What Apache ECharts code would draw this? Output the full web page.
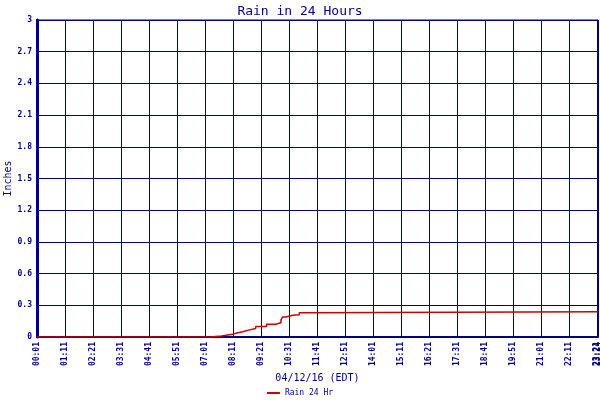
<!DOCTYPE html>
<html>
<head>
<meta charset="utf-8">
<script src="https://cdn.jsdelivr.net/npm/echarts@6/dist/echarts.min.js"></script>
<style>html,body{margin:0;padding:0;background:#fff}#c{width:600px;height:400px}</style>
</head>
<body>
<div id="c"></div>
<script>
var readingTimes = ["00:01","07:14","07:42","08:10","08:18","08:35","08:50","09:08","09:35","09:58","10:11","10:15","10:23","10:40","10:57","11:12","23:24"];
var rainValues   = [0,      0.01,   0.025,  0.035,  0.05,   0.065,  0.08,   0.10,   0.12,   0.135,  0.16,   0.19,   0.205,  0.21,   0.23,   0.24,   0.24];
var yTicks = ["0","0.3","0.6","0.9","1.2","1.5","1.8","2.1","2.4","2.7","3"];

function toMin(t){var p=t.split(":");return (+p[0])*60+(+p[1])-1;}
function fmt(v){var m=Math.round(v)+1;var h=Math.floor(m/60),mm=m%60;return (h<10?"0":"")+h+":"+(mm<10?"0":"")+mm;}
var data = readingTimes.map(function(t,i){return [toMin(t), rainValues[i]];});
var navy = "#000080";
var font = "DejaVu Sans Mono";
var xMax = toMin("23:24");
var extraTick = toMin("23:21");
var chart = echarts.init(document.getElementById("c"));
chart.setOption({
  animation:false,
  backgroundColor:"#fff",
  title:{text:"Rain in 24 Hours",left:"center",top:0,textStyle:{color:navy,fontFamily:font,fontSize:13,fontWeight:"normal"}},
  grid:{left:37,right:2,top:20,bottom:63,show:true,borderColor:navy,borderWidth:1,containLabel:false,outerBoundsMode:"none"},
  legend:{bottom:-2,left:"center",icon:"rect",itemWidth:13,itemHeight:2,itemGap:4,
    textStyle:{color:navy,fontFamily:font,fontSize:8},data:["Rain 24 Hr"]},
  xAxis:[{type:"value",min:0,max:xMax,interval:70,
    name:"04/12/16 (EDT)",nameLocation:"middle",nameGap:36,nameMoveOverlap:false,
    nameTextStyle:{color:navy,fontFamily:font,fontSize:10},
    axisLine:{lineStyle:{color:navy,width:2}},axisTick:{show:false},
    axisLabel:{rotate:90,color:navy,fontFamily:font,fontSize:8,fontWeight:"bold",margin:5,formatter:fmt,showMaxLabel:true,showMinLabel:true,hideOverlap:false},
    splitLine:{show:true,lineStyle:{color:navy,width:1}}},
   {type:"value",position:"bottom",min:0,max:xMax,interval:70,
    axisLine:{show:false},axisTick:{show:false},splitLine:{show:false},
    axisLabel:{rotate:90,color:navy,fontFamily:font,fontSize:8,fontWeight:"bold",margin:5,hideOverlap:false,
      formatter:function(v){return Math.round(v)===extraTick?fmt(v):"";}}}],
  yAxis:[{type:"value",min:0,max:3,interval:0.3,
    name:"Inches",nameLocation:"middle",nameGap:24,nameMoveOverlap:false,
    nameTextStyle:{color:navy,fontFamily:font,fontSize:10},
    axisLine:{show:true,lineStyle:{color:navy,width:2}},axisTick:{show:false},
    axisLabel:{color:navy,fontFamily:font,fontSize:8,fontWeight:"bold",margin:5,
      formatter:function(v){var i=Math.round(v/0.3);return yTicks[i]!==undefined?yTicks[i]:"";}},
    splitLine:{show:true,lineStyle:{color:navy,width:1}}},
    {type:"value",position:"right",min:0,max:3,interval:0.3,
    axisLine:{show:true,lineStyle:{color:navy,width:3}},axisTick:{show:false},axisLabel:{show:false},splitLine:{show:false}}],
  series:[{name:"Rain 24 Hr",type:"line",step:"end",data:data,symbol:"none",
    lineStyle:{color:"#cc0000",width:1.5},itemStyle:{color:"#cc0000"}}]
});
</script>
</body>
</html>
